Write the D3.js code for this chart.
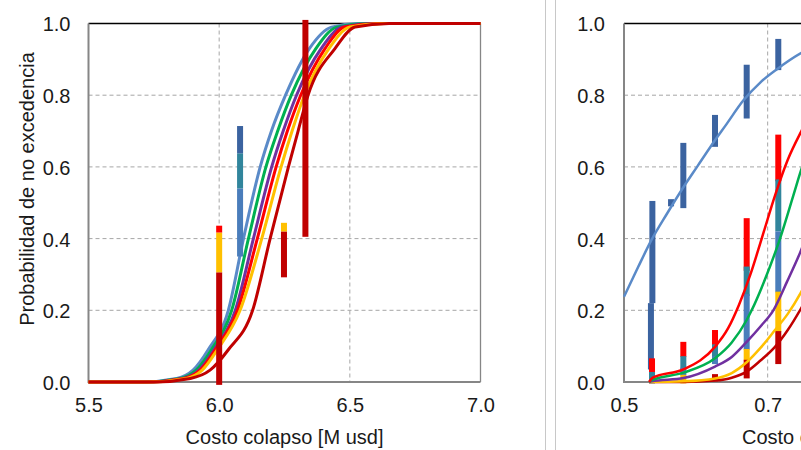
<!DOCTYPE html>
<html>
<head>
<meta charset="utf-8">
<title>Probabilidad de no excedencia</title>
<script src="https://cdn.jsdelivr.net/npm/d3@7"></script>
<style>
  body { margin: 0; background: #fff; }
  text { font-family: "Liberation Sans", Arial, sans-serif; fill: #1a1a1a; }
</style>
</head>
<body>
<svg width="801" height="450" id="mainSvg"></svg>
<script>
// ---- data ----
const yTicks = [0, 0.2, 0.4, 0.6, 0.8, 1.0];

// left panel: cost [M usd] at each probability level, one array per curve
const leftP       = [0, 0, 0.01, 0.033, 0.09, 0.2, 0.4, 0.6, 0.7, 0.8, 0.93, 0.99, 1, 1];
const leftBlue    = [5.5, 5.70, 5.838, 5.900, 5.958, 6.035, 6.093, 6.157, 6.200, 6.254, 6.345, 6.43, 6.53, 7.0];
const leftGreen   = [5.5, 5.71, 5.850, 5.912, 5.970, 6.048, 6.112, 6.179, 6.224, 6.276, 6.370, 6.45, 6.56, 7.0];
const leftPurple  = [5.5, 5.72, 5.860, 5.922, 5.980, 6.062, 6.131, 6.201, 6.245, 6.296, 6.390, 6.47, 6.59, 7.0];
const leftRed     = [5.5, 5.72, 5.865, 5.927, 5.985, 6.070, 6.146, 6.218, 6.261, 6.312, 6.405, 6.48, 6.61, 7.0];
const leftGold    = [5.5, 5.73, 5.875, 5.935, 5.993, 6.080, 6.163, 6.237, 6.279, 6.326, 6.420, 6.50, 6.63, 7.0];
const leftDarkRed = [5.5, 5.75, 5.890, 5.965, 6.035, 6.128, 6.195, 6.265, 6.302, 6.340, 6.443, 6.52, 6.65, 7.0];
const leftXTicks  = [5.5, 6.0, 6.5, 7.0];
const leftGridX   = [6.0, 6.5];

// left panel observed ranges: [cost, low, high, series]
const leftBars = [
  [6.00, -0.008, 0.306, "darkred"],
  [6.00, 0.306, 0.417, "gold"],
  [6.00, 0.417, 0.436, "red"],
  [6.08, 0.35, 0.54, "blue"],
  [6.08, 0.54, 0.638, "teal"],
  [6.08, 0.638, 0.714, "navy"],
  [6.248, 0.292, 0.42, "darkred"],
  [6.248, 0.42, 0.444, "gold"],
  [6.33, 0.405, 1.01, "darkred"]
];

// right panel curves: [cost, probability]
const rightBlue = [[0.5, 0.238], [0.52, 0.322], [0.5385, 0.397], [0.56, 0.47], [0.58, 0.535], [0.6026, 0.603],
  [0.62, 0.655], [0.643, 0.72], [0.666, 0.785], [0.69, 0.836], [0.7126, 0.872], [0.747, 0.918], [0.8, 0.96], [0.9, 0.99], [1.1, 1.0]];
const rightRed = [[0.535, 0.0], [0.54, 0.012], [0.5826, 0.035], [0.6267, 0.098], [0.645, 0.15], [0.66, 0.215],
  [0.676, 0.3], [0.6917, 0.4], [0.7102, 0.52], [0.728, 0.62], [0.747, 0.70], [0.8, 0.87], [0.9, 0.98], [1.1, 1.0]];
const rightGreen = [[0.535, 0.0], [0.5385, 0.005], [0.583, 0.026], [0.6267, 0.066], [0.65, 0.11], [0.6708, 0.173],
  [0.6777, 0.2], [0.697, 0.29], [0.7172, 0.4], [0.7357, 0.52], [0.7464, 0.59], [0.8, 0.84], [0.9, 0.97], [1.1, 1.0]];
const rightPurple = [[0.535, 0.0], [0.5385, 0.002], [0.583, 0.011], [0.6267, 0.043], [0.65, 0.07], [0.6708, 0.112],
  [0.69, 0.155], [0.7079, 0.2], [0.727, 0.28], [0.745, 0.36], [0.8, 0.68], [0.9, 0.95], [1.1, 1.0]];
const rightGold = [[0.535, 0.0], [0.583, 0.002], [0.6267, 0.01], [0.65, 0.025], [0.6708, 0.055], [0.69, 0.095],
  [0.7102, 0.145], [0.728, 0.19], [0.7464, 0.25], [0.8, 0.5], [0.9, 0.88], [1.1, 1.0]];
const rightDarkRed = [[0.535, 0.0], [0.583, 0.0], [0.6267, 0.004], [0.65, 0.012], [0.6708, 0.029], [0.69, 0.06],
  [0.7102, 0.098], [0.728, 0.145], [0.7464, 0.205], [0.8, 0.42], [0.9, 0.8], [1.1, 1.0]];
const rightXTicks = [0.5, 0.7];
const rightGridX  = [0.7, 0.9];

const rightBars = [
  [0.5395, 0.22, 0.505, "navy"],
  [0.5375, 0.035, 0.22, "navy"],
  [0.539, 0.02, 0.066, "red"],
  [0.539, -0.004, 0.028, "teal"],
  [0.5655, 0.49, 0.51, "navy"],
  [0.5826, 0.485, 0.667, "navy"],
  [0.5826, 0.07, 0.112, "red"],
  [0.5826, 0.035, 0.072, "teal"],
  [0.5826, 0.018, 0.04, "blue"],
  [0.5826, -0.004, 0.02, "gold"],
  [0.6267, 0.656, 0.745, "navy"],
  [0.6267, 0.095, 0.145, "red"],
  [0.6267, 0.068, 0.105, "teal"],
  [0.6267, 0.05, 0.072, "blue"],
  [0.6267, 0.002, 0.022, "darkred"],
  [0.6708, 0.735, 0.885, "navy"],
  [0.6708, 0.31, 0.457, "red"],
  [0.6708, 0.24, 0.322, "teal"],
  [0.6708, 0.09, 0.245, "blue"],
  [0.6708, 0.06, 0.092, "gold"],
  [0.6708, 0.01, 0.062, "darkred"],
  [0.7148, 0.87, 0.957, "navy"],
  [0.7148, 0.56, 0.69, "red"],
  [0.7148, 0.42, 0.565, "teal"],
  [0.7148, 0.25, 0.42, "blue"],
  [0.7148, 0.14, 0.252, "gold"],
  [0.7148, 0.05, 0.142, "darkred"]
];

// ---- styles ----
const colors = {
  curveBlue: "#5a8ac8", green: "#00b050", purple: "#7030a0", red: "#ff0000",
  gold: "#ffc000", darkred: "#c00000", navy: "#3b63a0", teal: "#31859c", blue: "#4a7dbb"
};

const svg = d3.select("#mainSvg");
const W = +svg.attr("width"), H = +svg.attr("height");
const plotTop = 23.5, plotBottom = 382;

// separator between the two charts
svg.selectAll(".sep").data([545.5, 555.5]).join("line")
  .attr("x1", d => d).attr("x2", d => d).attr("y1", 0).attr("y2", H)
  .attr("stroke", "#c8c8c8").attr("stroke-width", 1);

function drawPanel(cfg) {
  const x = d3.scaleLinear().domain(cfg.xDomain).range([cfg.left, cfg.right]);
  const y = d3.scaleLinear().domain([0, 1]).range([plotBottom, plotTop]);
  const g = svg.append("g");

  // dashed grid
  g.selectAll(".hg").data(yTicks.slice(1, -1)).join("line")
    .attr("x1", cfg.left).attr("x2", cfg.right)
    .attr("y1", d => y(d)).attr("y2", d => y(d))
    .attr("stroke", "#a6a6a6").attr("stroke-dasharray", "4,3");
  g.selectAll(".vg").data(cfg.gridX).join("line")
    .attr("x1", d => x(d)).attr("x2", d => x(d))
    .attr("y1", plotTop).attr("y2", plotBottom)
    .attr("stroke", "#a6a6a6").attr("stroke-dasharray", "4,3");

  // frame
  g.append("line").attr("x1", cfg.left).attr("x2", cfg.right).attr("y1", plotTop).attr("y2", plotTop)
    .attr("stroke", "#000").attr("stroke-width", 1.3);
  g.append("line").attr("x1", cfg.right).attr("x2", cfg.right).attr("y1", plotTop).attr("y2", plotBottom)
    .attr("stroke", "#868686").attr("stroke-width", 1.3);
  g.append("line").attr("x1", cfg.left).attr("x2", cfg.left).attr("y1", plotTop).attr("y2", plotBottom + 1)
    .attr("stroke", "#868686").attr("stroke-width", 2);
  g.append("line").attr("x1", cfg.left).attr("x2", cfg.right).attr("y1", plotBottom).attr("y2", plotBottom)
    .attr("stroke", "#868686").attr("stroke-width", 2);

  const line = d3.line().x(d => x(d[0])).y(d => y(d[1])).curve(d3.curveMonotoneX);

  const drawCurves = () => g.selectAll(".curve").data(cfg.curves).join("path").attr("class", "curve")
    .attr("d", d => line(d[1])).attr("fill", "none")
    .attr("stroke", d => colors[d[0]]).attr("stroke-width", cfg.curveWidth);
  const drawBars = () => g.selectAll(".bar").data(cfg.bars).join("rect").attr("class", "bar")
    .attr("x", d => x(d[0]) - 3).attr("width", 6)
    .attr("y", d => y(d[2])).attr("height", d => y(d[1]) - y(d[2]))
    .attr("fill", d => colors[d[3]]);

  if (cfg.barsOnTop) { drawCurves(); drawBars(); } else { drawBars(); drawCurves(); }

  // axes labels
  g.append("g").attr("transform", `translate(${cfg.left},0)`)
    .call(d3.axisLeft(y).tickValues(yTicks).tickFormat(d3.format(".1f")).tickSize(0).tickPadding(cfg.yPad))
    .call(a => a.select(".domain").remove())
    .selectAll("text").attr("font-size", 20).attr("dy", "0.37em");
  g.append("g").attr("transform", `translate(0,${plotBottom})`)
    .call(d3.axisBottom(x).tickValues(cfg.xTicks).tickFormat(d3.format(".1f")).tickSize(0).tickPadding(15.5))
    .call(a => a.select(".domain").remove())
    .selectAll("text").attr("font-size", 20);

  g.append("text").attr("x", cfg.titleX).attr("y", 444)
    .attr("text-anchor", cfg.titleAnchor).attr("font-size", 20).text("Costo colapso [M usd]");
}

drawPanel({
  xDomain: [5.5, 7.0], left: 88.5, right: 480.5, xTicks: leftXTicks, gridX: leftGridX, yPad: 18,
  titleX: 284.5, titleAnchor: "middle",
  curveWidth: 3, barsOnTop: true, bars: leftBars,
  curves: [["curveBlue", leftBlue], ["green", leftGreen], ["purple", leftPurple], ["red", leftRed],
           ["gold", leftGold], ["darkred", leftDarkRed]].map(([c, xs]) => [c, xs.map((v, i) => [v, leftP[i]])])
});

drawPanel({
  xDomain: [0.5, 1.1], left: 624, right: 624 + 0.6 * 718.3, xTicks: rightXTicks, gridX: rightGridX, yPad: 19,
  titleX: 742, titleAnchor: "start",
  curveWidth: 2.5, barsOnTop: false, bars: rightBars,
  curves: [["curveBlue", rightBlue], ["darkred", rightDarkRed], ["gold", rightGold], ["purple", rightPurple],
           ["green", rightGreen], ["red", rightRed]]
});

// y title (left chart)
svg.append("text")
  .attr("transform", "translate(33.5,189) rotate(-90)")
  .attr("text-anchor", "middle").attr("font-size", 20)
  .text("Probabilidad de no excedencia");
</script>
</body>
</html>
